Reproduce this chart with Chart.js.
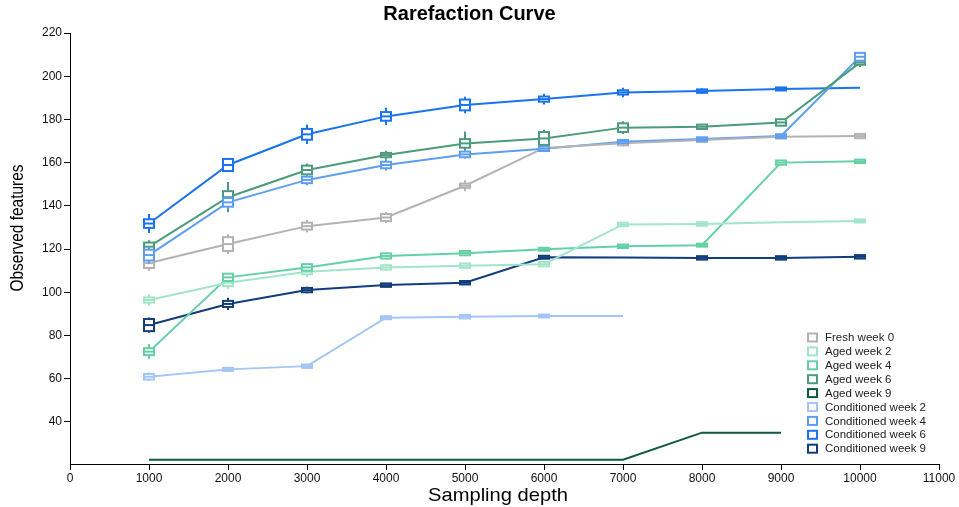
<!DOCTYPE html>
<html>
<head>
<meta charset="utf-8">
<script src="https://cdn.jsdelivr.net/npm/chart.js@4.4.1/dist/chart.umd.min.js"></script>
<style>
  html, body { margin: 0; padding: 0; background: #fff; }
  #wrap { width: 959px; height: 507px; }
</style>
</head>
<body>
<div id="wrap"><canvas id="rarefaction-chart" width="959" height="507"></canvas></div>
<script>
const depths = [1000, 2000, 3000, 4000, 5000, 6000, 7000, 8000, 9000, 10000];
const xTicks = [0, 1000, 2000, 3000, 4000, 5000, 6000, 7000, 8000, 9000, 10000, 11000];
const yTicks = [40, 60, 80, 100, 120, 140, 160, 180, 200, 220];

const groupNames = ['Fresh week 0', 'Aged week 2', 'Aged week 4', 'Aged week 6', 'Aged week 9',
  'Conditioned week 2', 'Conditioned week 4', 'Conditioned week 6', 'Conditioned week 9'];

// median per depth (null = no sample at that depth)
const freshWeek0 = [113.5, 122.3, 130.6, 134.6, 149.3, 166.8, 169, 170.5, 172, 172.3];
const agedWeek2 = [96.4, 104.4, 109.5, 111.5, 112.3, 113, 131.4, 131.6, 132.4, 133];
const agedWeek4 = [72.5, 106.9, 111.5, 116.8, 118.1, 119.9, 121.3, 121.8, 160, 160.6];
const agedWeek6 = [121.1, 144, 156.6, 163.5, 168.9, 171.2, 176.2, 176.6, 178.6, 206.3];
const agedWeek9 = [22.5, 22.5, 22.5, 22.5, 22.5, 22.5, 22.5, 35, 35, null];
const condWeek2 = [60.9, 64.3, 65.8, 88.2, 88.7, 89, 89, null, null, null];
const condWeek4 = [117.2, 141.6, 152, 158.9, 163.8, 166.4, 169.7, 170.9, 172.3, 209];
const condWeek6 = [131.8, 158.9, 173.1, 181.4, 186.7, 189.4, 192.5, 193.1, 194.1, 194.7];
const condWeek9 = [84.8, 94.6, 101, 103.3, 104.4, 116.2, 116.1, 115.9, 115.9, 116.4];

// half height of the quartile box, in features
const freshWeek0Box = [2.3, 3.2, 1.6, 1.6, 1, 1.3, 1, 1, 0.9, 1];
const agedWeek2Box = [1.2, 1.5, 1.2, 1, 1, 1, 0.8, 0.8, 0, 0.7];
const agedWeek4Box = [1.6, 1.7, 1.5, 1.2, 1, 0.7, 0.8, 0.5, 1, 0.8];
const agedWeek6Box = [1.9, 2.8, 2, 1, 2, 3, 2, 1, 1.5, 1];
const agedWeek9Box = [0, 0, 0, 0, 0, 0, 0, 0, 0, null];
const condWeek2Box = [1.3, 0.7, 0.8, 0.7, 0.8, 0.6, 0, null, null, null];
const condWeek4Box = [2.5, 2, 1.5, 1.5, 1.3, 1, 0.8, 0.8, 0.8, 1.8];
const condWeek6Box = [2, 2.8, 2.5, 2, 2.5, 1.2, 1, 0.8, 0.7, 0];
const condWeek9Box = [2.8, 1.4, 1, 0.8, 0.8, 0.6, 0, 0.8, 0.8, 0.8];

// half range of the whiskers, in features
const freshWeek0Whisker = [3.5, 4.6, 2.8, 2.5, 2.5, 1.8, 1.5, 1.2, 1, 1];
const agedWeek2Whisker = [2.5, 3, 2.5, 1.5, 1.2, 1.2, 1, 1, 0, 0.8];
const agedWeek4Whisker = [3.5, 2, 1.8, 1.5, 1.2, 1, 1, 0.8, 1.2, 1];
const agedWeek6Whisker = [3, 7, 3, 2, 5.5, 4, 3, 1.2, 1.8, 2];
const agedWeek9Whisker = [0, 0, 0, 0, 0, 0, 0, 0, 0, null];
const condWeek2Whisker = [2, 1, 1, 1, 1, 0.8, 0, null, null, null];
const condWeek4Whisker = [4, 3, 2.5, 2.5, 2, 1.5, 1, 1, 1, 2];
const condWeek6Whisker = [4.4, 3.2, 4.5, 4, 3.8, 2.5, 2.2, 1.2, 0.8, 0];
const condWeek9Whisker = [3.5, 2.8, 1.5, 1, 1, 0.8, 0, 1, 1, 1];

const groupColors = ['#b3b3b3', '#a2e5ca', '#65d0a6', '#4c9b7b', '#0e5a3b',
  '#a4c5f5', '#5e9ef1', '#1a73f1', '#123d7b'];

const medians = [freshWeek0, agedWeek2, agedWeek4, agedWeek6, agedWeek9, condWeek2, condWeek4, condWeek6, condWeek9];
const boxes = [freshWeek0Box, agedWeek2Box, agedWeek4Box, agedWeek6Box, agedWeek9Box, condWeek2Box, condWeek4Box, condWeek6Box, condWeek9Box];
const whiskers = [freshWeek0Whisker, agedWeek2Whisker, agedWeek4Whisker, agedWeek6Whisker, agedWeek9Whisker,
  condWeek2Whisker, condWeek4Whisker, condWeek6Whisker, condWeek9Whisker];

const FONT = "'Liberation Sans', Arial, Helvetica, sans-serif";

const datasets = groupNames.map(function(name, i) {
  const points = [];
  depths.forEach(function(d, k) {
    if (medians[i][k] !== null) points.push({ x: d, y: medians[i][k], box: boxes[i][k], whisker: whiskers[i][k] });
  });
  return {
    label: name,
    data: points,
    borderColor: groupColors[i],
    backgroundColor: groupColors[i],
    borderWidth: 2,
    pointRadius: 0,
    tension: 0,
    fill: false
  };
});

// boxes + whiskers at each sampled depth
const boxPlugin = {
  id: 'boxes',
  afterDatasetsDraw(chart) {
    const ctx = chart.ctx;
    const xs = chart.scales.x, ys = chart.scales.y;
    const half = 5;
    ctx.save();
    chart.data.datasets.forEach(function(ds) {
      ctx.strokeStyle = ds.borderColor;
      ctx.lineWidth = 2;
      ds.data.forEach(function(p) {
        if (!p.box && !p.whisker) return;
        const px = xs.getPixelForValue(p.x);
        const pm = ys.getPixelForValue(p.y);
        const top = ys.getPixelForValue(p.y + p.box);
        const bot = ys.getPixelForValue(p.y - p.box);
        const wt = ys.getPixelForValue(p.y + p.whisker);
        const wb = ys.getPixelForValue(p.y - p.whisker);
        ctx.beginPath();
        if (p.whisker > p.box) {
          ctx.moveTo(px, wt); ctx.lineTo(px, top);
          ctx.moveTo(px, bot); ctx.lineTo(px, wb);
        }
        ctx.stroke();
        if (p.box > 0) {
          const h = Math.max(bot - top, 3);
          ctx.fillStyle = '#fff';
          ctx.fillRect(px - half, pm - h / 2, half * 2, h);
          ctx.strokeRect(px - half, pm - h / 2, half * 2, h);
          ctx.beginPath();
          ctx.moveTo(px - half, pm); ctx.lineTo(px + half, pm);
          ctx.stroke();
        }
      });
    });
    ctx.restore();
  }
};

// axis titles and legend
const textPlugin = {
  id: 'texts',
  afterDraw(chart) {
    const ctx = chart.ctx;
    ctx.save();
    ctx.fillStyle = '#000';
    ctx.textAlign = 'center';
    ctx.textBaseline = 'middle';

    ctx.font = '19px ' + FONT;
    let w = ctx.measureText('Sampling depth').width;
    ctx.save();
    ctx.translate(498, 496);
    ctx.scale(140 / w, 1);
    ctx.fillText('Sampling depth', 0, 0);
    ctx.restore();

    ctx.font = '19px ' + FONT;
    w = ctx.measureText('Observed features').width;
    ctx.save();
    ctx.translate(18, 228);
    ctx.rotate(-Math.PI / 2);
    ctx.scale(127 / w, 1);
    ctx.fillText('Observed features', 0, 0);
    ctx.restore();

    ctx.textAlign = 'left';
    ctx.font = '11.5px ' + FONT;
    chart.data.datasets.forEach(function(ds, i) {
      const y = 337.5 + i * 13.9;
      ctx.strokeStyle = ds.borderColor;
      ctx.lineWidth = 2;
      ctx.strokeRect(808, y - 4, 9, 8);
      ctx.fillStyle = '#222';
      ctx.fillText(ds.label, 825, y + 0.5);
    });
    ctx.restore();
  }
};

new Chart(document.getElementById('rarefaction-chart'), {
  type: 'line',
  data: { datasets: datasets },
  plugins: [boxPlugin, textPlugin],
  options: {
    responsive: false,
    animation: false,
    layout: { autoPadding: false, padding: { left: 0, right: 20, top: 0, bottom: 0 } },
    plugins: {
      legend: { display: false },
      tooltip: { enabled: false },
      title: {
        display: true,
        text: 'Rarefaction Curve',
        color: '#000',
        font: { family: FONT, size: 20, weight: 'bold', lineHeight: 1.2 },
        padding: { top: 2, bottom: 7 }
      }
    },
    scales: {
      x: {
        type: 'linear',
        min: 0,
        max: 11000,
        afterFit: function(scale) { scale.height = 43; },
        afterBuildTicks: function(scale) { scale.ticks = xTicks.map(function(v) { return { value: v }; }); },
        grid: { drawOnChartArea: false, drawTicks: true, tickLength: 6, color: '#000' },
        border: { color: '#000', width: 1 },
        ticks: {
          color: '#111', padding: 1, maxRotation: 0, font: { family: FONT, size: 12 },
          callback: function(value) { return String(value); }
        }
      },
      y: {
        type: 'linear',
        min: 20.5,
        max: 220,
        afterFit: function(scale) { scale.width = 70; },
        afterBuildTicks: function(scale) { scale.ticks = yTicks.map(function(v) { return { value: v }; }); },
        grid: { drawOnChartArea: false, drawTicks: true, tickLength: 6, color: '#000' },
        border: { color: '#000', width: 1 },
        ticks: {
          color: '#111', padding: 2, font: { family: FONT, size: 12 },
          callback: function(value) { return String(value); }
        }
      }
    }
  }
});
</script>
</body>
</html>
